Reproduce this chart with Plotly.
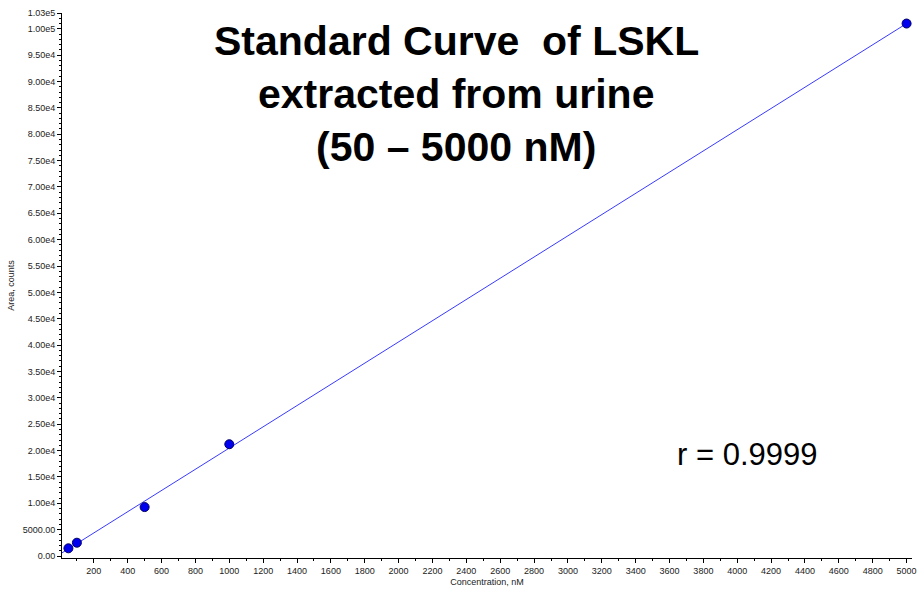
import plotly.graph_objects as go

conc = [50, 100, 500, 1000, 5000]
area = [1460, 2520, 9280, 21200, 101000]
fit_x = [12, 5000]
slope = 20.13
intercept = 350
fit_y = [slope * v + intercept for v in fit_x]

y_tickvals = [0, 5000] + [10000 + 5000 * i for i in range(19)] + [103000]
y_ticktext = ["0.00", "5000.00"] + ["%.2fe4" % (v / 1e4) for v in range(10000, 100000, 5000)] + ["1.00e5", "1.03e5"]
x_tickvals = list(range(200, 5001, 200))

fig = go.Figure()
fig.add_trace(go.Scatter(x=fit_x, y=fit_y, mode="lines",
                         line=dict(color="#3a3aff", width=1), showlegend=False))
fig.add_trace(go.Scatter(x=conc, y=area, mode="markers",
                         marker=dict(color="#0000ee", size=9, line=dict(color="#000066", width=1)),
                         showlegend=False, cliponaxis=False))

tick_font = dict(family="Liberation Sans, Arial", size=9, color="#222")
fig.update_layout(
    width=918, height=591,
    margin=dict(l=62, r=6, t=13, b=33),
    paper_bgcolor="white", plot_bgcolor="white",
    xaxis=dict(range=[12, 5032], tickvals=x_tickvals, ticks="outside", ticklen=4,
               tickcolor="black", showline=True, linecolor="black", linewidth=1,
               showgrid=False, zeroline=False, tickfont=tick_font, automargin=False,
               ticklabeloverflow="allow",
               minor=dict(dtick=100, tick0=0, ticks="outside", ticklen=2, tickcolor="black"),
               title=dict(text="Concentration, nM", font=tick_font, standoff=3)),
    yaxis=dict(range=[-380, 103000], tickvals=y_tickvals, ticktext=y_ticktext,
               ticks="outside", ticklen=4, tickcolor="black", showline=True,
               linecolor="black", linewidth=1, showgrid=False, zeroline=False,
               tickfont=tick_font, automargin=False, ticklabeloverflow="allow",
               minor=dict(dtick=1000, tick0=0, ticks="outside", ticklen=2, tickcolor="black"),
               title=dict(text="Area, counts", font=tick_font, standoff=6)),
)

title_font = dict(family="Liberation Sans, Arial", size=41, color="black")
for txt, yy in [("<b>Standard Curve  of LSKL</b>", 41), ("<b>extracted from urine</b>", 94),
                ("<b>(50 – 5000 nM)</b>", 147)]:
    fig.add_annotation(text=txt, xref="paper", yref="paper", x=(456 - 62) / 850,
                       y=1 - (yy - 13) / 545, showarrow=False, font=title_font,
                       xanchor="center", yanchor="middle")
fig.add_annotation(text="r = 0.9999", xref="paper", yref="paper", x=(747 - 62) / 850,
                   y=1 - (454 - 13) / 545, showarrow=False,
                   font=dict(family="Liberation Sans, Arial", size=31, color="black"),
                   xanchor="center", yanchor="middle")

fig.write_html("out.html", config={"displayModeBar": False},
               post_script="document.body.style.margin='0';document.body.style.overflow='hidden';")
